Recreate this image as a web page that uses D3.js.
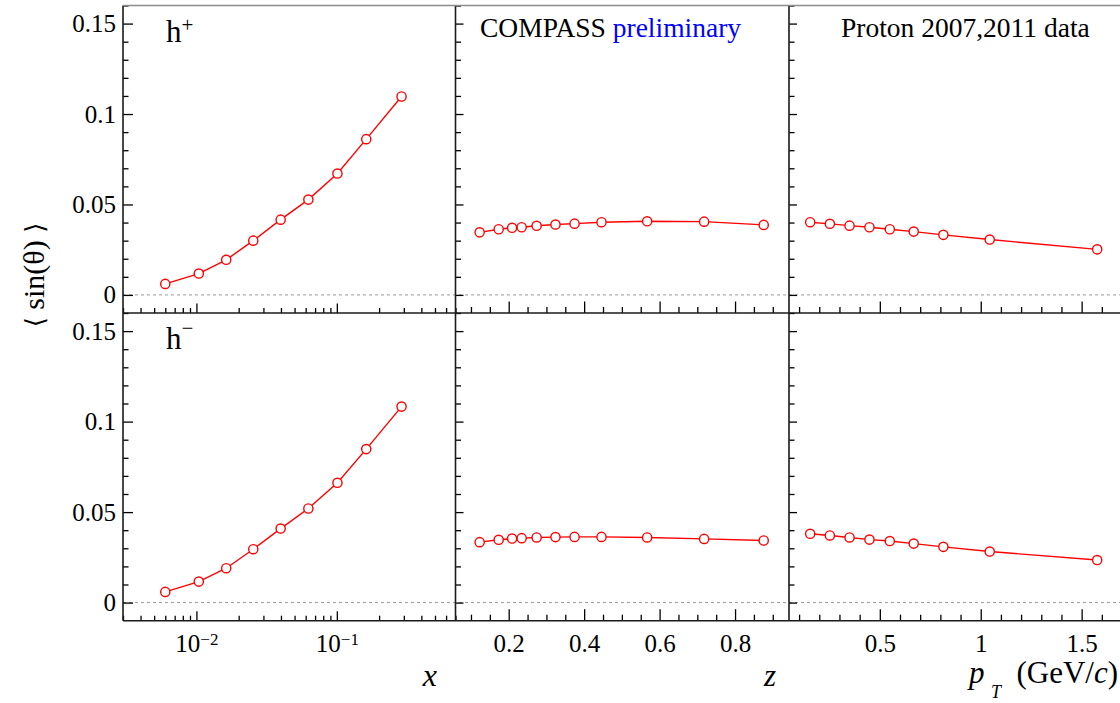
<!DOCTYPE html>
<html>
<head>
<meta charset="utf-8">
<script src="https://cdn.jsdelivr.net/npm/d3@7"></script>
<style>
  html, body { margin: 0; padding: 0; background: #fff; }
  svg { display: block; }
  text { font-family: "Liberation Serif", "Times New Roman", "DejaVu Serif", serif; fill: #000; }
</style>
</head>
<body>
<svg id="chart" width="1120" height="703"></svg>
<script>
// ---------- data ----------
const xBins   = [0.0060, 0.0104, 0.0163, 0.0254, 0.0398, 0.0627, 0.101, 0.162, 0.289];
const hPlusX  = [0.0061, 0.0118, 0.0194, 0.0300, 0.0416, 0.0527, 0.0671, 0.0861, 0.1097];
const hMinusX = [0.0059, 0.0116, 0.0190, 0.0295, 0.0409, 0.0520, 0.0662, 0.0848, 0.1083];

const zBins   = [0.123, 0.1735, 0.209, 0.2344, 0.274, 0.324, 0.3746, 0.446, 0.567, 0.718, 0.876];
const hPlusZ  = [0.0346, 0.0363, 0.0371, 0.0374, 0.0382, 0.0389, 0.0394, 0.0402, 0.0407, 0.0405, 0.0387];
const hMinusZ = [0.0334, 0.0347, 0.0354, 0.0356, 0.0360, 0.0362, 0.0363, 0.0363, 0.0360, 0.0352, 0.0343];

const ptBins   = [0.155, 0.2525, 0.350, 0.4486, 0.5495, 0.668, 0.815, 1.0446, 1.577];
const hPlusPt  = [0.0402, 0.0393, 0.0383, 0.0374, 0.0363, 0.0350, 0.0332, 0.0306, 0.0252];
const hMinusPt = [0.0380, 0.0371, 0.0360, 0.0348, 0.0340, 0.0326, 0.0308, 0.0282, 0.0235];

const yDomain  = [-0.01, 0.16];
const yMajor   = [0, 0.05, 0.1, 0.15];
const xDomain  = [0.003, 0.7];
const xMajor   = [0.01, 0.1];
const xLabels  = ["\u22122", "\u22121"];
const zDomain  = [0.059, 0.943];
const zMajor   = [0.2, 0.4, 0.6, 0.8];
const ptDomain = [0.05, 1.7];
const ptMajor  = [0.5, 1, 1.5];

// ---------- layout ----------
const svg = d3.select("#chart");
const colX = [[123, 455.5], [455.5, 789], [789, 1122]];
const rowY = [[5.5, 313], [313, 620.7]];
const red = "#ff0000";

const xScales = [
  d3.scaleLog().domain(xDomain).range(colX[0]),
  d3.scaleLinear().domain(zDomain).range(colX[1]),
  d3.scaleLinear().domain(ptDomain).range(colX[2])
];
const yScales = rowY.map(r => d3.scaleLinear().domain(yDomain).range([r[1], r[0]]));

const bins = [xBins, zBins, ptBins];
const series = [
  [hPlusX, hPlusZ, hPlusPt],
  [hMinusX, hMinusZ, hMinusPt]
];

const fmtY = v => (Math.abs(v) < 1e-9 ? "0" : String(+v.toFixed(2)));
const yMinor = d3.range(0, 0.1601, 0.01).map(v => +v.toFixed(3)).filter(v => !yMajor.some(m => Math.abs(m - v) < 1e-9));
const logMinor = xScales[0].ticks().filter(v => !xMajor.some(m => Math.abs(m - v) / m < 1e-6));
const zMinor = d3.range(0.1, 0.94, 0.05).map(v => +v.toFixed(3)).filter(v => !zMajor.some(m => Math.abs(m - v) < 1e-9));
const ptMinor = d3.range(0.1, 1.71, 0.1).map(v => +v.toFixed(3)).filter(v => !ptMajor.some(m => Math.abs(m - v) < 1e-9));
const xMinors = [logMinor, zMinor, ptMinor];
const xMajors = [xMajor, zMajor, ptMajor];

function styleAxis(g) {
  g.attr("font-family", null).attr("font-size", null);
  g.select(".domain").remove();
  g.selectAll(".tick line").attr("stroke", "#000").attr("stroke-width", 1.3);
  g.selectAll(".tick text")
    .style("font-family", '"Liberation Serif", "Times New Roman", serif')
    .style("font-size", "25px").attr("fill", "#000");
}

// zero dashed line
rowY.forEach((r, ri) => {
  svg.append("line")
    .attr("x1", colX[0][0]).attr("x2", 1120)
    .attr("y1", yScales[ri](0)).attr("y2", yScales[ri](0))
    .attr("stroke", "#9a9a9a").attr("stroke-width", 1).attr("stroke-dasharray", "3,3");
});

// axes
rowY.forEach((r, ri) => {
  const y = yScales[ri];
  colX.forEach((c, ci) => {
    const x = xScales[ci];
    const majLen = ci === 0 ? 10 : 8;
    const gl = svg.append("g").attr("transform", `translate(${c[0]},0)`)
      .call(d3.axisLeft(y).tickValues(yMajor).tickSizeInner(-majLen).tickSizeOuter(0)
        .tickPadding(7).tickFormat(ci === 0 ? fmtY : () => ""));
    styleAxis(gl);
    const glm = svg.append("g").attr("transform", `translate(${c[0]},0)`)
      .call(d3.axisLeft(y).tickValues(yMinor).tickSizeInner(-5.5).tickSizeOuter(0).tickFormat(() => ""));
    styleAxis(glm);
    const xmLen = ci === 0 ? 9.5 : 11.5;
    const xmnLen = ci === 0 ? 5 : 6;
    const gb = svg.append("g").attr("transform", `translate(0,${r[1]})`)
      .call(d3.axisBottom(x).tickValues(xMajors[ci]).tickSizeInner(-xmLen).tickSizeOuter(0)
        .tickPadding(14).tickFormat(ri === 1 ? (ci === 0 ? () => "10" : d => String(d)) : () => ""));
    styleAxis(gb);
    if (ri === 1 && ci === 0) {
      gb.selectAll(".tick text").each(function (d, i) {
        const t = d3.select(this);
        t.text("");
        t.append("tspan").text("10");
        t.append("tspan").attr("dy", "-0.42em").style("font-size", "17px").text(xLabels[i]);
      });
    }
    const gbm = svg.append("g").attr("transform", `translate(0,${r[1]})`)
      .call(d3.axisBottom(x).tickValues(xMinors[ci]).tickSizeInner(-xmnLen).tickSizeOuter(0).tickFormat(() => ""));
    styleAxis(gbm);
  });
});

// frame
const frame = svg.append("g").attr("stroke", "#1a1a1a").attr("stroke-width", 1.6).attr("fill", "none");
frame.append("line").attr("x1", colX[0][0]).attr("x2", colX[0][0]).attr("y1", rowY[0][0]).attr("y2", rowY[1][1]);
frame.append("line").attr("x1", colX[1][0]).attr("x2", colX[1][0]).attr("y1", rowY[0][0]).attr("y2", rowY[1][1]);
frame.append("line").attr("x1", colX[2][0]).attr("x2", colX[2][0]).attr("y1", rowY[0][0]).attr("y2", rowY[1][1]);
frame.append("line").attr("x1", colX[0][0]).attr("x2", 1120).attr("y1", rowY[0][1]).attr("y2", rowY[0][1]);
frame.append("line").attr("x1", colX[0][0]).attr("x2", 1120).attr("y1", rowY[1][1]).attr("y2", rowY[1][1]);
svg.append("line").attr("x1", colX[0][0]).attr("x2", 1120).attr("y1", rowY[0][0]).attr("y2", rowY[0][0])
  .attr("stroke", "#8c8c8c").attr("stroke-width", 1.4);

// data
rowY.forEach((r, ri) => {
  const y = yScales[ri];
  colX.forEach((c, ci) => {
    const x = xScales[ci];
    const pts = bins[ci].map((b, i) => [b, series[ri][ci][i]]);
    svg.append("path").datum(pts)
      .attr("d", d3.line().x(d => x(d[0])).y(d => y(d[1])))
      .attr("fill", "none").attr("stroke", red).attr("stroke-width", 1.4);
    svg.append("g").selectAll("circle").data(pts).join("circle")
      .attr("cx", d => x(d[0])).attr("cy", d => y(d[1])).attr("r", 4.6)
      .attr("fill", "#fff").attr("stroke", red).attr("stroke-width", 1.4);
  });
});

// labels in panels
const hp = svg.append("text").attr("x", 166).attr("y", 41.7).style("font-size", "31px");
hp.append("tspan").text("h");
hp.append("tspan").attr("dy", -10).style("font-size", "21px").text("+");
const hm = svg.append("text").attr("x", 166).attr("y", 349.3).style("font-size", "31px");
hm.append("tspan").text("h");
hm.append("tspan").attr("dy", -14).style("font-size", "21px").text("\u2212");

const ct = svg.append("text").attr("x", 480).attr("y", 36.5).style("font-size", "27.5px");
ct.append("tspan").text("COMPASS ");
ct.append("tspan").attr("fill", "#0000ff").style("fill", "#0000ff").text("preliminary");

svg.append("text").attr("x", 841).attr("y", 36.5).style("font-size", "27.5px").text("Proton 2007,2011 data");

// axis titles
svg.append("text").attr("x", 437).attr("y", 686).attr("text-anchor", "end")
  .style("font-size", "32px").style("font-style", "italic").text("x");
svg.append("text").attr("x", 776).attr("y", 686).attr("text-anchor", "end")
  .style("font-size", "31px").style("font-style", "italic").text("z");
svg.append("text").attr("x", 969).attr("y", 683).style("font-size", "31px").style("font-style", "italic").text("p");
svg.append("text").attr("x", 991).attr("y", 697.5).style("font-size", "18px").style("font-style", "italic").text("T");
const gev = svg.append("text").attr("x", 1118).attr("y", 683).attr("text-anchor", "end").style("font-size", "31px");
gev.append("tspan").text("(GeV/");
gev.append("tspan").style("font-style", "italic").text("c");
gev.append("tspan").text(")");

const yt = svg.append("text").attr("transform", "translate(44,275) rotate(-90)")
  .attr("text-anchor", "middle").style("font-size", "30px");
yt.append("tspan").style("font-family", '"DejaVu Serif", serif').style("font-size", "26px").text("\u27E8");
yt.append("tspan").text(" sin(\u03B8) ");
yt.append("tspan").style("font-family", '"DejaVu Serif", serif').style("font-size", "26px").text("\u27E9");
</script>
</body>
</html>
